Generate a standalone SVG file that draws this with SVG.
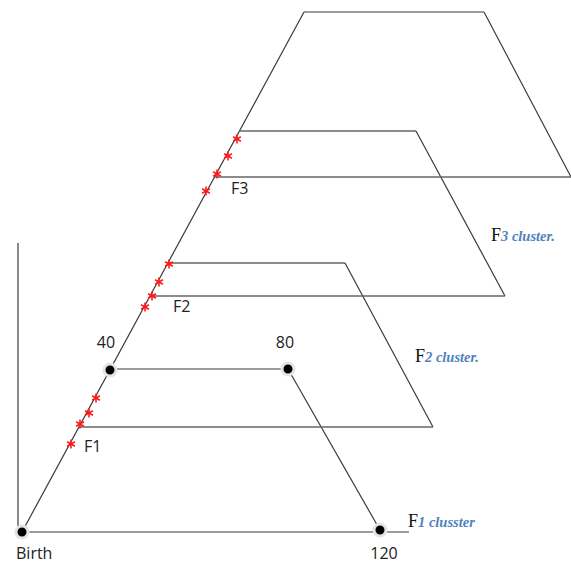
<svg xmlns="http://www.w3.org/2000/svg" xmlns:xlink="http://www.w3.org/1999/xlink" width="571" height="564" viewBox="0 0 571 564">
<style>
.ln{stroke:#3a3a3a;stroke-width:1.2;fill:none}
.tp{stroke:#666;stroke-width:1.6;fill:none}
.lbl{font-family:"Open Sans","Liberation Sans",sans-serif;font-size:16px;fill:#222}
.fser{font-family:"Liberation Serif",serif;font-size:18px;fill:#111}
.cl{font-family:"Liberation Serif",serif;font-style:italic;font-weight:bold;font-size:14.5px;fill:#4f81bd}
.dot{fill:#000;stroke:#e4e4e4;stroke-width:3}
</style>
<defs>
<g id="ast" stroke="#ff1a1a" stroke-width="1.6" fill="none">
<line x1="0" y1="-4.5" x2="0" y2="4.5"/>
<line x1="-3.9" y1="-2.3" x2="3.9" y2="2.3"/>
<line x1="-3.9" y1="2.3" x2="3.9" y2="-2.3"/>
</g>
</defs>
<rect width="571" height="564" fill="#fff"/>
<g id="connectors">
<line class="ln" x1="18" y1="243" x2="18" y2="532"/>
<line class="ln" x1="22" y1="532" x2="304" y2="12"/>
</g>
<g id="f1-cluster">
<line class="ln" x1="22" y1="532" x2="409" y2="532"/>
<line class="ln" x1="110" y1="369" x2="288" y2="369"/>
<line class="ln" x1="288" y1="369" x2="380" y2="530"/>
</g>
<g id="f2-cluster">
<line class="tp" x1="168" y1="263" x2="345" y2="263"/>
<line class="ln" x1="345" y1="263" x2="433" y2="427"/>
<line class="tp" x1="79" y1="427" x2="433" y2="427"/>
</g>
<g id="f3-cluster">
<line class="tp" x1="239" y1="131" x2="416" y2="131"/>
<line class="ln" x1="416" y1="131" x2="505" y2="296"/>
<line class="tp" x1="150" y1="296" x2="505" y2="296"/>
</g>
<g id="top-cluster">
<line class="ln" x1="304" y1="12" x2="484" y2="12"/>
<line class="ln" x1="484" y1="12" x2="571" y2="177"/>
<line class="tp" x1="215" y1="177" x2="571" y2="177"/>
</g>
<g id="asterisks">
<use xlink:href="#ast" x="71" y="444"/>
<use xlink:href="#ast" x="80" y="424"/>
<use xlink:href="#ast" x="89" y="413"/>
<use xlink:href="#ast" x="96" y="398"/>
<use xlink:href="#ast" x="169" y="264"/>
<use xlink:href="#ast" x="159" y="282"/>
<use xlink:href="#ast" x="152" y="296"/>
<use xlink:href="#ast" x="145" y="307"/>
<use xlink:href="#ast" x="237" y="139"/>
<use xlink:href="#ast" x="228" y="156"/>
<use xlink:href="#ast" x="217" y="174"/>
<use xlink:href="#ast" x="206" y="191"/>
</g>
<g id="node-birth"><circle class="dot" cx="22" cy="532" r="6"/><text class="lbl" x="16" y="559">Birth</text></g>
<g id="node-40"><circle class="dot" cx="110" cy="370" r="6"/><text class="lbl" x="106" y="348" text-anchor="middle">40</text></g>
<g id="node-80"><circle class="dot" cx="288" cy="369" r="6"/><text class="lbl" x="285" y="348" text-anchor="middle">80</text></g>
<g id="node-120"><circle class="dot" cx="380" cy="530" r="6"/><text class="lbl" x="384" y="559" text-anchor="middle">120</text></g>
<g id="labels">
<text class="lbl" x="84" y="452">F1</text>
<text class="lbl" x="173" y="312">F2</text>
<text class="lbl" x="231" y="194">F3</text>
<text x="408" y="527"><tspan class="fser">F</tspan><tspan class="cl">1 clusster</tspan></text>
<text x="415" y="362"><tspan class="fser">F</tspan><tspan class="cl">2 cluster.</tspan></text>
<text x="491" y="241"><tspan class="fser">F</tspan><tspan class="cl">3 cluster.</tspan></text>
</g>
</svg>
